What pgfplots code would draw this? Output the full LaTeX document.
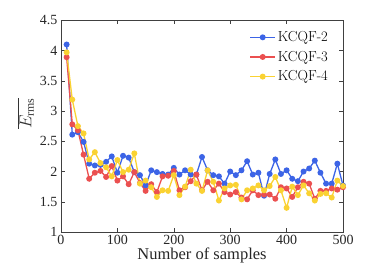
\documentclass[border=0pt]{standalone}
\usepackage{pgfplots}
\pgfplotsset{compat=1.18}
\usepackage{pgfplotstable}
\usepackage{fontspec}
\setmainfont{Liberation Serif}
\newfontfamily\lmfont{Latin Modern Roman}
\definecolor{cblue}{RGB}{60,100,230}
\definecolor{cred}{RGB}{235,80,80}
\definecolor{cyel}{RGB}{250,210,50}
\pgfplotstableread{
x b r y
10 4.10 3.89 3.97
20 2.61 2.78 3.19
30 2.65 2.68 2.75
40 2.49 2.28 2.63
50 2.13 1.88 2.20
60 2.10 1.98 2.32
70 2.11 2.01 2.14
80 2.16 1.91 2.07
90 2.25 2.09 1.92
100 1.98 1.85 2.19
110 2.26 1.92 1.99
120 2.23 1.79 2.03
130 1.99 1.99 2.30
140 1.94 1.81 1.80
150 1.77 1.68 1.85
160 2.02 1.79 1.74
170 1.99 1.66 1.58
180 1.96 1.92 1.69
190 1.95 1.93 1.68
200 2.06 2.01 1.94
210 1.95 1.69 1.61
220 2.02 1.74 1.75
230 1.95 1.84 2.03
240 1.95 1.95 1.80
250 2.24 1.69 1.68
260 2.02 1.83 2.02
270 1.94 1.69 1.83
280 1.92 1.80 1.52
290 1.80 1.66 1.72
300 2.00 1.62 1.77
310 1.94 1.66 1.78
320 2.02 1.57 1.54
330 2.17 1.54 1.69
340 1.95 1.69 1.72
350 1.98 1.61 1.77
360 1.60 1.62 1.69
370 1.96 1.62 1.76
380 2.20 1.55 1.91
390 1.96 1.74 1.69
400 2.02 1.72 1.40
410 1.88 1.58 1.75
420 1.84 1.74 1.61
430 2.00 1.83 1.77
440 2.05 1.80 1.64
450 2.18 1.55 1.52
460 1.98 1.68 1.63
470 1.80 1.68 1.64
480 1.80 1.72 1.57
490 2.13 1.70 1.85
500 1.77 1.74 1.76
}\datatable
\begin{document}
\begin{tikzpicture}
\useasboundingbox (-61pt,-42pt) rectangle (316pt,232pt);
\begin{axis}[
  at={(0pt,0pt)}, anchor=south west,
  scale only axis, width=282pt, height=211.7pt,
  xmin=0, xmax=500, ymin=1, ymax=4.5,
  xtick={0,100,...,500}, ytick={1,1.5,...,4.5},
  tick align=inside, tick pos=both,
  major tick length=4pt,
  axis line style={black!75, line width=0.5pt},
  tick style={black!75, line width=0.5pt},
  /pgf/number format/assume math mode=true,
  ticklabel style={font=\fontsize{14}{14}\selectfont, black!85},
  yticklabel style={/pgf/number format/fixed, /pgf/number format/precision=1},
  xlabel={Number of samples},
  xlabel style={font=\fontsize{16.5}{16.5}\selectfont, black!85, yshift=4pt},
  ylabel={$\overline{E_{\mathrm{rms}}}$},
  ylabel style={font=\fontsize{17}{17}\selectfont, black!80, at={(ticklabel cs:0.56)}, yshift=-1pt},
  legend style={draw=none, fill=none, at={(rel axis cs:1,1)}, anchor=north east,
    xshift=-12pt, yshift=-8pt, font=\lmfont\fontsize{14.5}{14.5}\selectfont,
    row sep=4pt, inner sep=1pt},
  legend cell align=left,
  legend image code/.code={\draw[mark repeat=2,mark phase=2,#1] plot coordinates {(0pt,0pt) (12.5pt,0pt) (25pt,0pt)};},
  every axis plot/.append style={line width=1.3pt, mark=*, mark size=2.3pt},
]
\addplot[cblue, mark options={fill=cblue, draw=cblue}] table[x=x,y=b] {\datatable};
\addplot[cred, mark options={fill=cred, draw=cred}] table[x=x,y=r] {\datatable};
\addplot[cyel, mark options={fill=cyel, draw=cyel}] table[x=x,y=y] {\datatable};
\legend{KCQF-2,KCQF-3,KCQF-4}
\end{axis}
\end{tikzpicture}
\end{document}
